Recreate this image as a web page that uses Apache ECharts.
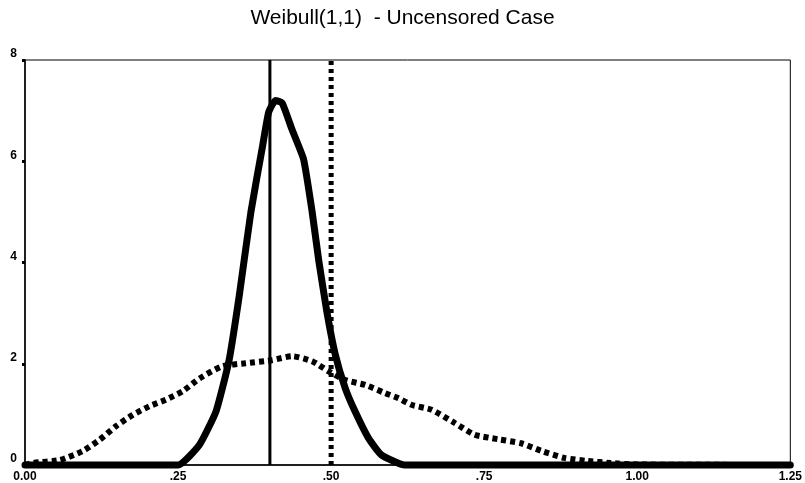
<!DOCTYPE html>
<html><head><meta charset="utf-8">
<script src="https://cdn.jsdelivr.net/npm/echarts@6/dist/echarts.min.js"></script>
<style>html,body{margin:0;padding:0;background:#fff}#c{width:805px;height:483px}</style>
</head><body><div id="c"></div>
<script>
const titleText = 'Weibull(1,1)  - Uncensored Case';
const xTicks = [0, 0.25, 0.5, 0.75, 1.0, 1.25];
const xTickLabels = ['0.00', '.25', '.50', '.75', '1.00', '1.25'];
const yTicks = [0, 2, 4, 6, 8];

const solidX = [0, 0.25, 0.285, 0.312, 0.333, 0.350, 0.369, 0.388, 0.398, 0.409, 0.420, 0.436, 0.455, 0.469, 0.480, 0.493, 0.507, 0.523, 0.539, 0.561, 0.582, 0.62, 1.25];
const solidY = [0, 0, 0.40, 1.06, 2.05, 3.35, 5.0, 6.3, 6.97, 7.2, 7.15, 6.63, 6.04, 5.0, 4.02, 3.03, 2.17, 1.52, 1.06, 0.53, 0.20, 0, 0];

const dottedX = [0, 0.013, 0.057, 0.095, 0.122, 0.149, 0.176, 0.203, 0.23, 0.258, 0.285, 0.322, 0.36, 0.403, 0.436, 0.469, 0.496, 0.523, 0.556, 0.588, 0.61, 0.631, 0.664, 0.702, 0.734, 0.772, 0.81, 0.843, 0.881, 0.919, 0.956, 1.0, 1.25];
const dottedY = [0, 0.04, 0.10, 0.28, 0.50, 0.77, 0.99, 1.16, 1.29, 1.46, 1.71, 1.95, 2.01, 2.07, 2.15, 2.05, 1.85, 1.68, 1.58, 1.42, 1.32, 1.19, 1.09, 0.83, 0.60, 0.51, 0.43, 0.28, 0.14, 0.08, 0.04, 0.01, 0];

const solidVLine = 0.40;
const dottedVLine = 0.50;
const yMax = 8;

const pairs = (xs, ys) => xs.map((x, i) => [x, ys[i]]);
const chart = echarts.init(document.getElementById('c'), null, {renderer: 'canvas'});
chart.setOption({
  animation: false,
  backgroundColor: '#fff',
  title: {
    text: titleText, left: 'center', top: 3,
    textStyle: {fontFamily: 'Liberation Sans, Arial', fontSize: 21, fontWeight: 'normal', color: '#000'}
  },
  grid: {left: 25, right: 11, top: 60, bottom: 16, show: true, borderColor: '#000', borderWidth: 1},
  xAxis: {
    type: 'value', min: 0, max: 1.25, interval: 0.25,
    axisLine: {lineStyle: {color: '#000', width: 1.5}},
    axisTick: {show: false},
    splitLine: {show: false},
    axisLabel: {
      margin: 6, color: '#000', fontFamily: 'Liberation Sans, Arial', fontSize: 12, fontWeight: 'bold',
      showMinLabel: true, showMaxLabel: true,
      formatter: v => { const i = xTicks.findIndex(t => Math.abs(t - v) < 1e-9); return i >= 0 ? xTickLabels[i] : ''; }
    }
  },
  yAxis: {
    type: 'value', min: 0, max: yMax, interval: 2,
    axisLine: {show: true, lineStyle: {color: '#000', width: 1.5}},
    axisTick: {show: true, length: 3, lineStyle: {color: '#000', width: 3}},
    splitLine: {show: false},
    axisLabel: {
      margin: 8, color: '#000', fontFamily: 'Liberation Sans, Arial', fontSize: 12, fontWeight: 'bold',
      verticalAlign: 'bottom',
      formatter: v => yTicks.includes(v) ? String(v) : ''
    }
  },
  series: [
    {
      type: 'line', data: pairs(dottedX, dottedY), showSymbol: false, clip: false, smooth: 0.2,
      lineStyle: {color: '#000', width: 6, type: [5, 4], cap: 'butt'}, z: 2
    },
    {
      type: 'line', data: pairs(solidX, solidY), showSymbol: false, clip: false, smooth: 0.15,
      lineStyle: {color: '#000', width: 7, type: 'solid', join: 'round', cap: 'round'}, z: 3
    },
    {
      type: 'line', data: [[solidVLine, 0], [solidVLine, yMax]], showSymbol: false, clip: false,
      lineStyle: {color: '#000', width: 3, type: 'solid'}, z: 4
    },
    {
      type: 'line', data: [[dottedVLine, 0], [dottedVLine, yMax]], showSymbol: false, clip: false,
      lineStyle: {color: '#000', width: 5, type: [4, 4], cap: 'butt'}, z: 4
    }
  ]
});
</script></body></html>
